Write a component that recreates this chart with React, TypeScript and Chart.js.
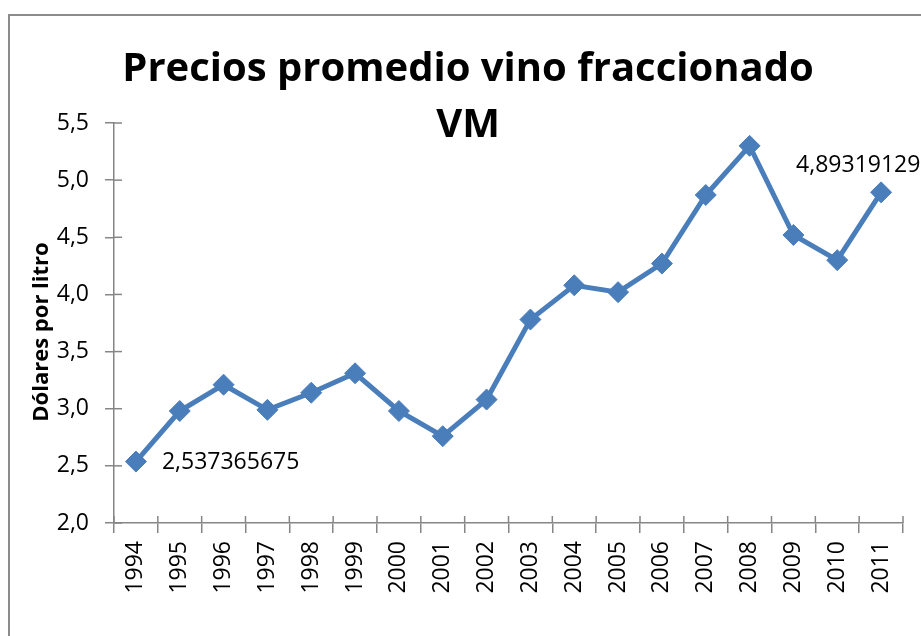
import React, { useEffect, useRef } from 'react';
import { Chart, registerables } from 'chart.js';
Chart.register(...registerables);

const years = ['1994','1995','1996','1997','1998','1999','2000','2001','2002','2003','2004','2005','2006','2007','2008','2009','2010','2011'];
const prices = [2.537365675, 2.98, 3.21, 2.99, 3.14, 3.31, 2.98, 2.76, 3.08, 3.78, 4.08, 4.02, 4.27, 4.87, 5.30, 4.52, 4.30, 4.89319129];
const titleLines = ['Precios promedio vino fraccionado', 'VM'];
const yTitle = 'Dólares por litro';
const labeledPoints = [0, 17];
const yMin = 2.0;
const yMax = 5.5;
const yStep = 0.5;

const FONT = "'Open Sans', 'DejaVu Sans', sans-serif";
const AXIS = '#868686';

const crossTicks = {
  id: 'crossTicks',
  afterDraw(chart: any) {
    const { ctx, chartArea, scales } = chart;
    ctx.save();
    ctx.strokeStyle = AXIS;
    ctx.lineWidth = 1.5;
    const ys = scales.y;
    ys.ticks.forEach((_: any, i: number) => {
      const y = ys.getPixelForTick(i);
      ctx.beginPath();
      ctx.moveTo(chartArea.left, y);
      ctx.lineTo(chartArea.left + 8, y);
      ctx.stroke();
    });
    const xs = scales.x;
    const half = (xs.getPixelForValue(1) - xs.getPixelForValue(0)) / 2;
    for (let i = 0; i <= years.length; i++) {
      const x = xs.getPixelForValue(i) - half;
      ctx.beginPath();
      ctx.moveTo(x, chartArea.bottom);
      ctx.lineTo(x, chartArea.bottom - 7);
      ctx.stroke();
    }
    // y-axis title
    ctx.fillStyle = '#000';
    ctx.font = `bold 22px ${FONT}`;
    ctx.textAlign = 'center';
    ctx.textBaseline = 'middle';
    ctx.translate(32, (chartArea.top + chartArea.bottom) / 2 + 9);
    ctx.rotate(-Math.PI / 2);
    ctx.fillText(yTitle, 0, 0);
    ctx.restore();
  },
};

const dataLabels = {
  id: 'dataLabels',
  afterDatasetsDraw(chart: any) {
    const { ctx } = chart;
    const meta = chart.getDatasetMeta(0);
    ctx.save();
    ctx.font = `23px ${FONT}`;
    ctx.fillStyle = '#000';
    ctx.textBaseline = 'middle';
    ctx.textAlign = 'left';
    labeledPoints.forEach((idx, k) => {
      const pt = meta.data[idx];
      const text = String(prices[idx]).replace('.', ',');
      if (k === 0) ctx.fillText(text, pt.x + 26, pt.y + 1);
      else ctx.fillText(text, pt.x - 85, pt.y - 27);
    });
    ctx.restore();
  },
};

export default function App() {
  const ref = useRef<HTMLCanvasElement | null>(null);
  useEffect(() => {
    if (!ref.current) return;
    const chart = new Chart(ref.current, {
      type: 'line',
      data: {
        labels: years,
        datasets: [{
          data: prices,
          borderColor: '#4a7ebb',
          backgroundColor: '#4a7ebb',
          borderWidth: 5,
          pointStyle: 'rectRot',
          pointRadius: 10.5,
          pointBorderWidth: 1,
          pointBorderColor: '#4a7ebb',
          pointBackgroundColor: '#4a7ebb',
          tension: 0,
          clip: false as any,
        }],
      },
      options: {
        responsive: false,
        animation: false,
        layout: { padding: { left: 23, right: 19, top: 0, bottom: 0 } },
        plugins: {
          legend: { display: false },
          tooltip: { enabled: false },
          title: {
            display: true,
            text: titleLines,
            color: '#000',
            font: { family: FONT, size: 40, weight: 'bold', lineHeight: 1.4 },
            padding: { top: 26, bottom: -31 },
          },
        },
        scales: {
          x: {
            offset: true,
            grid: { display: true, drawOnChartArea: false, offset: true, color: AXIS, lineWidth: 1.5, tickLength: 10 },
            border: { display: true, color: AXIS, width: 1.5 },
            ticks: { color: '#000', font: { family: FONT, size: 23 }, minRotation: 90, maxRotation: 90, padding: 8, autoSkip: false },
            afterFit(scale: any) { scale.height = 133; },
          },
          y: {
            min: yMin,
            max: yMax,
            grid: { display: true, drawOnChartArea: false, color: AXIS, lineWidth: 1.5, tickLength: 9 },
            border: { display: true, color: AXIS, width: 1.5 },
            ticks: {
              stepSize: yStep,
              color: '#000',
              font: { family: FONT, size: 23 },
              padding: 16,
              callback: (v: any) => Number(v).toFixed(1).replace('.', ','),
            },
            afterFit(scale: any) { scale.width = 81; },
          },
        },
      },
      plugins: [crossTicks, dataLabels],
    });
    return () => chart.destroy();
  }, []);
  return (
    <div style={{ position: 'fixed', left: 0, top: 0, width: 921, height: 636, overflow: 'hidden', background: '#fff' }}>
      <div style={{ position: 'absolute', left: 8, top: 14, border: '2px solid #8c8c8c', background: '#fff' }}>
        <canvas ref={ref} width={912} height={640} style={{ display: 'block', width: 912, height: 640 }} />
      </div>
    </div>
  );
}
